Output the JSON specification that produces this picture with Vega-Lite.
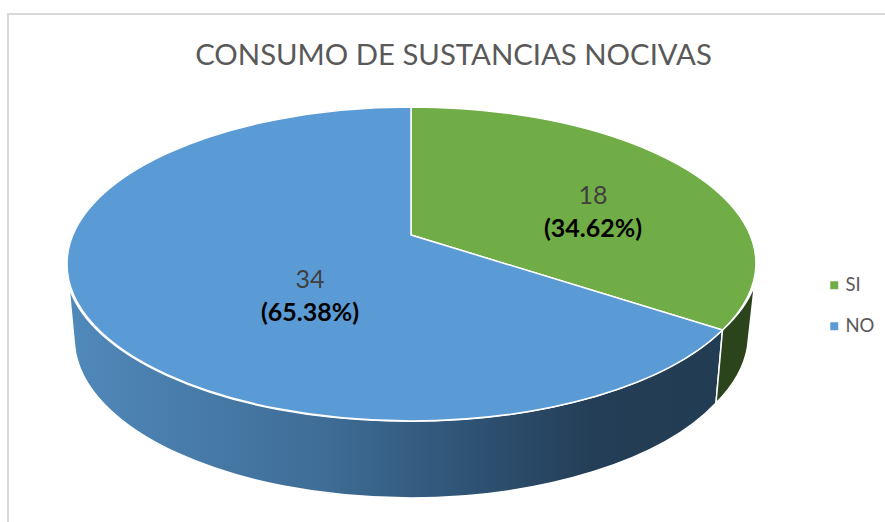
{"$schema":"https://vega.github.io/schema/vega-lite/v6.json","width":885,"height":522,"padding":0,"autosize":{"type":"none"},"background":"white","config":{"view":{"stroke":null},"font":"Lato"},"title":{"text":"CONSUMO DE SUSTANCIAS NOCIVAS","font":"Lato","fontSize":29.3,"fontWeight":"normal","color":"#595959","anchor":"middle","dx":11,"dy":94,"baseline":"alphabetic","offset":0},"data":{"values":[{"categoria":"SI","valor":18,"porcentaje":"(34.62%)"},{"categoria":"NO","valor":34,"porcentaje":"(65.38%)"}]},"layer":[{"data":{"values":[{"elemento":"marco"}]},"mark":{"type":"point","size":4,"filled":false,"stroke":"#d9d9d9","strokeWidth":2,"opacity":1,"shape":"M 443,-247 L -434.5,-247 L -434.5,262"}},{"transform":[{"filter":"datum.categoria == 'NO'"}],"mark":{"type":"point","size":4,"filled":true,"opacity":1,"stroke":"white","strokeWidth":1.5,"shape":"M-373.5,26 A344.5,157,0,0,0,280,69 L273.5,142 A337,160,0,0,1,-31.5,237 A337,160,0,0,1,-368,84 Z","fill":{"gradient":"linear","x1":0,"y1":0,"x2":1,"y2":0,"stops":[{"offset":0,"color":"#5089bb"},{"offset":0.4,"color":"#3e6c95"},{"offset":0.55,"color":"#335a7e"},{"offset":0.8,"color":"#243e57"},{"offset":1,"color":"#223c53"}]}}},{"transform":[{"filter":"datum.categoria == 'SI'"}],"mark":{"type":"point","size":4,"filled":true,"opacity":1,"stroke":"white","strokeWidth":1.5,"fill":"#2b441b","shape":"M280,69 A344.5,157,0,0,0,312,24 L305,86 A337,160,0,0,1,273.5,142 Z"}},{"transform":[{"filter":"datum.categoria == 'SI'"}],"mark":{"type":"point","size":4,"filled":true,"opacity":1,"stroke":"white","strokeWidth":1.5,"shape":"M-31.5,-26 L-31.5,-154 A344.5,157,0,0,1,313.5,3 A344.5,157,0,0,1,280,69 Z"},"encoding":{"color":{"field":"categoria","type":"nominal","scale":{"domain":["SI","NO"],"range":["#70ad47","#5b9bd5"]},"legend":{"title":null,"orient":"none","legendX":825,"legendY":276,"symbolType":"square","symbolSize":64,"symbolStrokeWidth":0,"symbolOpacity":1,"labelFont":"Lato","labelFontSize":18.5,"labelColor":"#595959","labelOffset":2,"rowPadding":22,"padding":0}}}},{"transform":[{"filter":"datum.categoria == 'NO'"}],"mark":{"type":"point","size":4,"filled":true,"opacity":1,"stroke":"white","strokeWidth":1.5,"shape":"M-31.5,-26 L280,69 A344.5,157,0,0,1,-31.5,160 A344.5,157,0,0,1,-375.5,3 A344.5,157,0,0,1,-31.5,-154 Z"},"encoding":{"color":{"field":"categoria","type":"nominal","scale":{"domain":["SI","NO"],"range":["#70ad47","#5b9bd5"]},"legend":{"title":null,"orient":"none","legendX":825,"legendY":276,"symbolType":"square","symbolSize":64,"symbolStrokeWidth":0,"symbolOpacity":1,"labelFont":"Lato","labelFontSize":18.5,"labelColor":"#595959","labelOffset":2,"rowPadding":22,"padding":0}}}},{"mark":{"type":"text","font":"Lato","fontSize":25,"color":"#404040","baseline":"middle","align":"center"},"encoding":{"x":{"field":"categoria","type":"nominal","axis":null,"scale":{"domain":["SI","NO"],"range":[593,310],"padding":0}},"y":{"field":"categoria","type":"nominal","axis":null,"scale":{"domain":["SI","NO"],"range":[196,280],"padding":0}},"text":{"field":"valor","type":"quantitative"}}},{"mark":{"type":"text","font":"Lato","fontSize":25,"fontWeight":"bold","color":"#000000","baseline":"middle","align":"center","dy":33},"encoding":{"x":{"field":"categoria","type":"nominal","axis":null,"scale":{"domain":["SI","NO"],"range":[593,310],"padding":0}},"y":{"field":"categoria","type":"nominal","axis":null,"scale":{"domain":["SI","NO"],"range":[196,280],"padding":0}},"text":{"field":"porcentaje","type":"nominal"}}}]}
